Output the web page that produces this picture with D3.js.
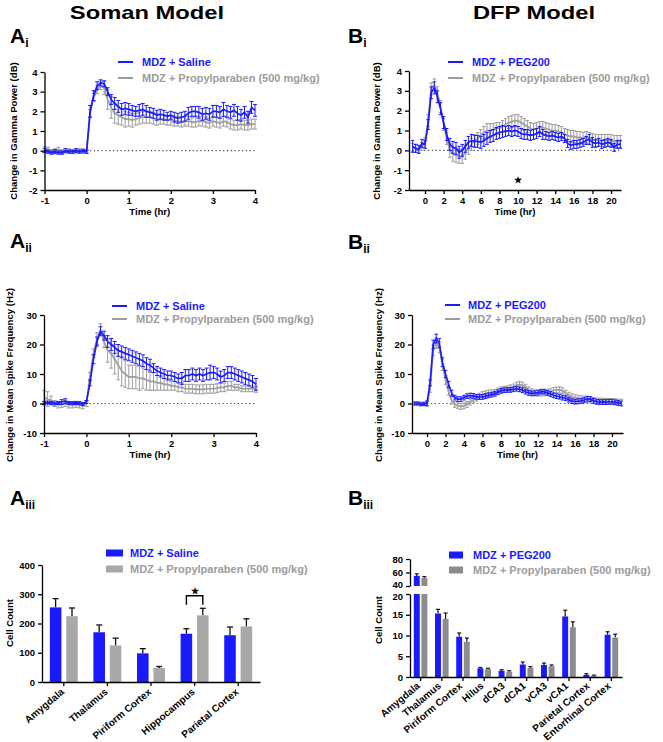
<!DOCTYPE html>
<html><head><meta charset="utf-8">
<script src="https://cdn.jsdelivr.net/npm/d3@7"></script>
<style>body{margin:0;background:#fff} text{font-family:"Liberation Sans",Arial,sans-serif;font-weight:bold}</style>
</head><body><svg id="c" width="663" height="742"></svg>
<script>
// ---------------- DATA ----------------
const somanTime = d3.range(61).map(i => -1 + i / 12);   // 5-min bins, -1 .. 4 hr
const dfpTime = d3.range(68).map(i => -4 / 3 + i / 3);   // 20-min bins, -1.33 .. 21 hr

const aiSaline = [0.0,-0.05,-0.1,-0.05,-0.1,-0.1,0.0,-0.05,-0.05,0.0,-0.05,0.0,-0.05,
 2.0,2.8,3.3,3.45,3.4,3.0,2.6,2.4,2.25,2.1,2.15,2.1,
 2.05,2.0,2.05,2.1,2.0,1.95,1.9,1.8,1.85,1.8,1.75,1.8,
 1.7,1.65,1.7,1.75,1.9,2.0,2.0,1.95,1.85,1.9,1.85,2.0,
 2.0,1.95,2.1,2.0,1.95,2.05,1.9,1.8,1.95,1.7,2.2,2.05];
const aiSalineErr = [0.1,0.08,0.08,0.1,0.08,0.08,0.1,0.08,0.08,0.1,0.08,0.08,0.08,
 0.3,0.25,0.2,0.15,0.15,0.2,0.25,0.3,0.3,0.3,0.3,0.3,
 0.25,0.25,0.3,0.3,0.3,0.25,0.25,0.25,0.25,0.25,0.2,0.2,
 0.25,0.25,0.25,0.25,0.3,0.25,0.25,0.3,0.3,0.3,0.3,0.3,
 0.3,0.3,0.35,0.3,0.3,0.3,0.35,0.3,0.3,0.3,0.3,0.3];
const aiPropyl = [0.05,0.05,-0.05,0.0,0.05,-0.05,0.0,0.0,-0.05,0.0,0.0,-0.05,-0.05,
 1.9,2.7,3.1,3.3,3.2,2.6,2.2,1.9,1.8,1.7,1.6,1.6,
 1.55,1.6,1.65,1.7,1.7,1.7,1.65,1.6,1.6,1.6,1.55,1.55,
 1.5,1.5,1.45,1.5,1.5,1.45,1.45,1.5,1.5,1.45,1.4,1.5,
 1.45,1.4,1.5,1.45,1.35,1.3,1.3,1.35,1.3,1.3,1.35,1.35];
const aiPropylErr = [0.15,0.12,0.12,0.1,0.12,0.1,0.1,0.1,0.1,0.1,0.1,0.1,0.1,
 0.2,0.2,0.2,0.2,0.35,0.5,0.55,0.5,0.45,0.4,0.4,0.35,
 0.35,0.3,0.3,0.3,0.3,0.3,0.3,0.3,0.25,0.25,0.25,0.25,
 0.25,0.25,0.25,0.25,0.25,0.25,0.25,0.25,0.25,0.25,0.25,0.25,
 0.25,0.25,0.25,0.25,0.25,0.25,0.25,0.25,0.25,0.25,0.25,0.25];

const aiiSaline = [0.2,0.3,0.2,0.0,0.2,0.5,0.8,0.2,0.1,0.2,0.1,-0.2,0.5,
 7,15,21,24.5,23,21,20,19,18,17.5,17,16.5,
 16,15.5,15,14.5,13.5,13,12,11,10.5,10,9.5,9.5,
 9,8.5,8.5,9.5,9.5,10,9.5,10,9.5,10,10.5,10.5,
 10,9,9.5,10.5,10.5,10,9.5,9,8.5,8,7.5,6.5];
const aiiSalineErr = [0.5,0.5,0.5,0.5,0.5,0.8,0.8,0.5,0.5,0.5,0.5,0.5,0.5,
 1,1.5,1.5,1.5,1.5,2,2,2,2,2,2,2,
 2,2,2,2,2,2,1.5,1.5,1.5,1.5,1.5,1.5,
 1.5,1.5,2,2,2,2,2,2,2,2,2.5,2,
 2,2,2,2,2,2,2,2,2,2,2,2];
const aiiPropyl = [2.0,1.5,1.0,0.0,-0.5,-0.3,0.0,-0.5,-0.5,-0.3,-0.5,-0.8,0.0,
 9,17,22,25,21,18,17,15,13,11,10,9,
 9,9,8.5,8.5,8,7.5,7.5,7,7,6.5,6.5,6,
 6,5.5,5.5,5,5,5,4.8,4.8,4.8,5,5,5,
 5.2,5.5,5.5,6,6,5.5,5.5,5,5,5,5,4.8];
const aiiPropylErr = [2.5,2.5,1.5,1,1,1,1,1,1,1,1,1,1,
 1.5,1.5,2,2,2,4,5,5,5,5,4.5,4,
 4,4,4,3.5,3.5,3,3,2.5,2.5,2,2,1.5,
 1.5,1.5,1.5,1.5,1.5,1.5,1.5,1.5,1.5,1.5,1.5,1.5,
 1.5,1.5,1.5,1.5,1.5,1,1,1,1,1,1,1];

const biPeg = [0.2,0.1,0.05,0.35,
 0.3,1.3,2.9,3.15,2.7,2.1,1.4,0.8,0.3,0.15,0.1,-0.1,
 0.0,0.2,0.4,0.5,0.45,0.45,0.4,0.5,0.6,0.7,0.75,0.85,
 0.9,0.95,0.95,1.0,0.95,1.0,0.95,0.85,0.8,0.8,0.75,0.8,
 0.85,0.95,0.8,0.75,0.7,0.75,0.7,0.65,0.7,0.6,0.35,0.25,
 0.3,0.3,0.35,0.4,0.5,0.55,0.4,0.35,0.4,0.3,0.35,0.4,
 0.35,0.15,0.3,0.3];
const biPegErr = [0.3,0.2,0.2,0.2,
 0.2,0.25,0.3,0.3,0.3,0.3,0.3,0.3,0.3,0.3,0.3,0.3,
 0.3,0.3,0.3,0.3,0.3,0.3,0.3,0.3,0.3,0.3,0.3,0.3,
 0.3,0.3,0.25,0.25,0.25,0.25,0.25,0.25,0.25,0.25,0.25,0.25,
 0.25,0.25,0.25,0.2,0.2,0.2,0.2,0.2,0.2,0.2,0.2,0.2,
 0.2,0.2,0.2,0.2,0.2,0.25,0.25,0.2,0.2,0.2,0.2,0.2,
 0.2,0.2,0.2,0.2];
const biPropyl = [0.15,0.1,0.05,0.2,
 0.4,1.5,3.1,3.3,2.9,2.2,1.3,0.6,0.0,-0.2,-0.25,-0.3,
 -0.3,-0.1,0.1,0.3,0.5,0.6,0.75,0.9,1.0,1.0,1.05,1.1,
 1.1,1.2,1.3,1.4,1.45,1.5,1.5,1.4,1.3,1.2,1.1,1.05,
 1.1,1.15,1.15,1.1,1.05,1.0,1.0,0.95,0.9,0.8,0.75,0.7,
 0.7,0.65,0.65,0.6,0.65,0.6,0.55,0.5,0.5,0.5,0.5,0.5,
 0.5,0.45,0.45,0.45];
const biPropylErr = [0.2,0.2,0.2,0.2,
 0.25,0.3,0.3,0.3,0.3,0.3,0.3,0.3,0.35,0.35,0.35,0.35,
 0.35,0.35,0.3,0.3,0.3,0.3,0.3,0.3,0.35,0.35,0.3,0.3,
 0.3,0.3,0.3,0.3,0.3,0.3,0.3,0.3,0.3,0.3,0.3,0.3,
 0.3,0.3,0.3,0.3,0.3,0.3,0.3,0.3,0.3,0.3,0.3,0.3,
 0.3,0.3,0.3,0.3,0.3,0.3,0.3,0.3,0.3,0.3,0.3,0.3,
 0.3,0.3,0.3,0.3];

const biiPeg = [0,0,-0.3,-0.2,
 0,7,20,22,20.5,14,10,6.5,3.5,2,1.5,1.5,
 2,2.5,2.7,2.6,2.3,2.2,2.2,2.5,2.8,3.0,3.3,3.8,
 4.3,4.5,4.6,4.6,4.8,5.0,4.8,4.5,4.0,3.6,3.4,3.5,
 3.7,4.0,4.0,3.6,3.2,2.8,2.5,2.3,2.0,1.8,1.3,0.8,
 0.6,0.7,0.9,1.2,1.6,1.5,0.9,0.6,0.5,0.5,0.5,0.6,
 0.6,0.4,0.2,0.0];
const biiPegErr = [0.5,0.5,0.5,0.5,
 0.8,1,1.5,1.5,1.5,1.5,1.2,1,1,0.8,0.8,0.8,
 0.8,0.8,0.8,0.8,0.8,0.8,0.8,0.8,0.8,0.8,0.8,0.8,
 0.8,0.8,0.8,0.8,0.8,0.8,0.8,0.8,0.8,0.8,0.8,0.8,
 0.8,0.8,0.8,0.8,0.8,0.8,0.8,0.8,0.8,0.8,0.8,0.8,
 0.8,0.8,0.8,0.8,0.8,0.8,0.8,0.8,0.8,0.8,0.8,0.8,
 0.8,0.8,0.8,0.8];
const biiPropyl = [0,0,0,0,
 0,5,18,20.5,19,13,8,4,1,-0.3,-0.8,-1.0,
 -0.8,-0.3,0.5,1.2,1.8,2.5,3.0,3.3,3.5,3.6,3.8,4.2,
 4.6,4.8,5.0,5.3,5.6,6.2,6.5,6.2,5.5,4.6,4.0,3.6,
 3.5,3.5,3.6,3.8,4.0,4.4,4.6,4.6,4.3,3.5,2.8,2.3,
 2.0,1.8,1.6,1.5,1.4,1.2,1.0,0.9,0.8,0.8,0.7,0.7,
 0.6,0.6,0.5,0.4];
const biiPropylErr = [0.5,0.5,0.5,0.5,
 0.8,1.2,1.8,1.8,1.8,1.8,1.5,1.2,1.2,1,1,1,
 1,1,1,1,1,1,1,1,1,1,1,1,
 1,1,1,1,1,1,1,1,1,1,1,1,
 1,1,1,1,1,1,1,1,1,1,1,1,
 1,1,1,1,1,1,1,1,1,1,1,1,
 1,1,1,1];

const aiiiRegions = ["Amygdala","Thalamus","Piriform Cortex","Hippocampus","Parietal Cortex"];
const aiiiSaline = [255,170,98,165,160];
const aiiiSalineErr = [30,25,16,17,28];
const aiiiPropyl = [225,125,48,228,190];
const aiiiPropylErr = [28,25,5,24,26];

const biiiRegions = ["Amygdala","Thalamus","Piriform Cortex","Hilus","dCA3","dCA1","vCA3","vCA1","Parietal Cortex","Entorhinal Cortex"];
const biiiPeg = [55,15.3,9.7,2.1,1.5,3.0,2.9,14.6,0.5,10.2];
const biiiPegErr = [3,1.0,0.9,0.2,0.25,0.6,0.45,1.5,0.3,0.7];
const biiiPropyl = [52,14.0,8.5,1.9,1.3,2.2,2.6,12.0,0.3,9.5];
const biiiPropylErr = [2,1.4,0.9,0.2,0.2,0.3,0.3,1.3,0.15,0.8];

const yTicksGamma = [-2,-1,0,1,2,3,4];
const yTicksSpike = [-10,0,10,20,30];
const xTicksSoman = [-1,0,1,2,3,4];
const xTicksDfp = [0,2,4,6,8,10,12,14,16,18,20];

// ---------------- DRAW ----------------
const BLUE = "#1a1aff", GRAY = "#9c9c9c", GRAYBAR = "#a8a8a8", GRAYBAR2 = "#8c8c8c";
const FONT = '"Liberation Sans", Arial, sans-serif';
const svg = d3.select("#c");

function styleAxis(g, fs) {
  g.attr("font-family", FONT).attr("font-size", fs || 9.5).attr("font-weight", "bold");
  g.selectAll("path,line").attr("stroke", "#000").attr("stroke-width", 1.3);
  g.selectAll("text").attr("fill", "#000");
}

function label(x, y, main, sub) {
  const t = svg.append("text").attr("x", x).attr("y", y).attr("font-size", 21).attr("fill", "#000");
  t.append("tspan").text(main);
  t.append("tspan").attr("font-size", 12).attr("dy", 4).text(sub);
}

function yLabel(x, y, txt) {
  svg.append("text").attr("transform", `translate(${x},${y}) rotate(-90)`).attr("text-anchor", "middle")
    .attr("font-size", 9.6).attr("fill", "#000").text(txt);
}

function lineLegend(o, names) {
  const cols = [BLUE, GRAY];
  names.forEach((n, i) => {
    svg.append("line").attr("x1", o.x1).attr("x2", o.x2).attr("y1", o.ys[i]).attr("y2", o.ys[i])
      .attr("stroke", cols[i]).attr("stroke-width", 2);
    svg.append("text").attr("x", o.tx).attr("y", o.ys[i]).attr("dy", "0.36em").attr("font-size", 11)
      .attr("fill", cols[i]).text(n);
  });
}

function linePanel(o) {
  const x = d3.scaleLinear().domain(o.xRef).range(o.xRefPx);
  x.domain([x.invert(o.xRange[0]), x.invert(o.xRange[1])]).range(o.xRange);
  const y = d3.scaleLinear().domain(o.yDom).range(o.yRange);
  const g = svg.append("g");
  g.append("line").attr("x1", o.xRange[0]).attr("x2", o.xRange[1]).attr("y1", y(0)).attr("y2", y(0))
    .attr("stroke", "#444").attr("stroke-width", 1.1).attr("stroke-dasharray", "1.2,2.6");
  o.series.forEach(s => {
    const pts = s.t.map((t, i) => ({ t, v: s.v[i], e: s.e[i] }));
    const eb = g.append("g").attr("stroke", s.color).attr("stroke-width", 1);
    pts.forEach(p => {
      const cx = x(p.t), y1 = y(p.v - p.e), y2 = y(p.v + p.e);
      eb.append("line").attr("x1", cx).attr("x2", cx).attr("y1", y1).attr("y2", y2);
      eb.append("line").attr("x1", cx - o.cap).attr("x2", cx + o.cap).attr("y1", y1).attr("y2", y1);
      eb.append("line").attr("x1", cx - o.cap).attr("x2", cx + o.cap).attr("y1", y2).attr("y2", y2);
    });
    g.append("path").datum(pts).attr("d", d3.line().x(p => x(p.t)).y(p => y(p.v)))
      .attr("fill", "none").attr("stroke", s.color).attr("stroke-width", 1.7);
  });
  const ax = g.append("g").attr("transform", `translate(0,${o.yRange[0]})`)
    .call(d3.axisBottom(x).tickValues(o.xTicks).tickSize(4).tickSizeOuter(0).tickPadding(3).tickFormat(d => String(d)));
  styleAxis(ax);
  const ay = g.append("g").attr("transform", `translate(${o.xRange[0]},0)`)
    .call(d3.axisLeft(y).tickValues(o.yTicks).tickSize(4).tickSizeOuter(0).tickPadding(3).tickFormat(d => String(d)));
  styleAxis(ay);
  svg.append("text").attr("x", (o.xRange[0] + o.xRange[1]) / 2).attr("y", o.yRange[0] + 25).attr("text-anchor", "middle")
    .attr("font-size", 9.6).attr("fill", "#000").text("Time (hr)");
  if (o.star) {
    svg.append("text").attr("x", x(o.star[0])).attr("y", y(o.star[1])).attr("dy", "0.35em").attr("text-anchor", "middle")
      .attr("font-family", "DejaVu Sans").attr("font-size", 9).attr("fill", "#000").text("★");
  }
}

// titles
svg.append("text").attr("transform", "translate(147,19) scale(1.25,1)").attr("text-anchor", "middle").attr("font-size", 19).attr("fill", "#000").text("Soman Model");
svg.append("text").attr("transform", "translate(534,19) scale(1.25,1)").attr("text-anchor", "middle").attr("font-size", 19).attr("fill", "#000").text("DFP Model");

label(10, 43, "A", "i"); label(348, 43, "B", "i");
label(10, 248, "A", "ii"); label(348, 249, "B", "ii");
label(10, 505, "A", "iii"); label(348, 505, "B", "iii");

// Ai
linePanel({ xRef: [-1, 4], xRefPx: [44.5, 255], xRange: [44.5, 255], yDom: [-2, 4], yRange: [190, 72],
  xTicks: xTicksSoman, yTicks: yTicksGamma, cap: 2,
  series: [{ t: somanTime, v: aiPropyl, e: aiPropylErr, color: GRAY }, { t: somanTime, v: aiSaline, e: aiSalineErr, color: BLUE }] });
lineLegend({ x1: 118, x2: 133, tx: 142, ys: [62, 78] }, ["MDZ + Saline", "MDZ + Propylparaben (500 mg/kg)"]);
yLabel(17, 131, "Change in Gamma Power (dB)");

// Bi
linePanel({ xRef: [0, 20], xRefPx: [425, 611], xRange: [409, 621], yDom: [-2, 4], yRange: [190, 71],
  xTicks: xTicksDfp, yTicks: yTicksGamma, cap: 1.8, star: [10, -1.5],
  series: [{ t: dfpTime, v: biPropyl, e: biPropylErr, color: GRAY }, { t: dfpTime, v: biPeg, e: biPegErr, color: BLUE }] });
lineLegend({ x1: 448, x2: 463, tx: 472, ys: [62, 78] }, ["MDZ + PEG200", "MDZ + Propylparaben (500 mg/kg)"]);
yLabel(380, 131, "Change in Gamma Power (dB)");

// Aii
linePanel({ xRef: [-1, 4], xRefPx: [44, 256], xRange: [44, 256], yDom: [-10, 30], yRange: [433, 315],
  xTicks: xTicksSoman, yTicks: yTicksSpike, cap: 2,
  series: [{ t: somanTime, v: aiiPropyl, e: aiiPropylErr, color: GRAY }, { t: somanTime, v: aiiSaline, e: aiiSalineErr, color: BLUE }] });
lineLegend({ x1: 112, x2: 127, tx: 136, ys: [306, 319] }, ["MDZ + Saline", "MDZ + Propylparaben (500 mg/kg)"]);
yLabel(13, 375, "Change in Mean Spike Frequency (Hz)");

// Bii
linePanel({ xRef: [0, 20], xRefPx: [427, 612], xRange: [412, 623], yDom: [-10, 30], yRange: [433, 315],
  xTicks: xTicksDfp, yTicks: yTicksSpike, cap: 1.8,
  series: [{ t: dfpTime, v: biiPropyl, e: biiPropylErr, color: GRAY }, { t: dfpTime, v: biiPeg, e: biiPegErr, color: BLUE }] });
lineLegend({ x1: 445, x2: 460, tx: 468, ys: [305, 319] }, ["MDZ + PEG200", "MDZ + Propylparaben (500 mg/kg)"]);
yLabel(382, 375, "Change in Mean Spike Frequency (Hz)");

// bar legend
function barLegend(o, names, grayCol) {
  const cols = [BLUE, grayCol];
  const tcols = [BLUE, GRAY];
  names.forEach((n, i) => {
    svg.append("rect").attr("x", o.x1).attr("y", o.ys[i] - 3.5).attr("width", o.x2 - o.x1).attr("height", 7).attr("fill", cols[i]);
    svg.append("text").attr("x", o.tx).attr("y", o.ys[i]).attr("dy", "0.36em").attr("font-size", 11).attr("fill", tcols[i]).text(n);
  });
}

// Aiii
(function () {
  const x = d3.scaleBand().domain(aiiiRegions).range([42, 260]);
  const y = d3.scaleLinear().domain([0, 400]).range([682, 565]);
  const bw = x.bandwidth(), w = bw * 0.265, off = bw * 0.188;
  const g = svg.append("g");
  const sets = [[aiiiSaline, aiiiSalineErr, BLUE, -off], [aiiiPropyl, aiiiPropylErr, GRAYBAR, off]];
  sets.forEach(([vals, errs, col, dx]) => {
    aiiiRegions.forEach((r, i) => {
      const cx = x(r) + bw / 2 + dx;
      g.append("line").attr("x1", cx).attr("x2", cx).attr("y1", y(vals[i])).attr("y2", y(vals[i] + errs[i])).attr("stroke", "#111").attr("stroke-width", 1.3);
      g.append("line").attr("x1", cx - 3).attr("x2", cx + 3).attr("y1", y(vals[i] + errs[i])).attr("y2", y(vals[i] + errs[i])).attr("stroke", "#111").attr("stroke-width", 1.3);
      g.append("rect").attr("x", cx - w / 2).attr("y", y(vals[i])).attr("width", w).attr("height", y(0) - y(vals[i])).attr("fill", col);
    });
  });
  // significance bracket (Hippocampus)
  const hc = x("Hippocampus") + bw / 2;
  const by = y(295);
  g.append("path").attr("d", `M${hc - off},${by + 9}V${by}H${hc + off}V${by + 9}`).attr("fill", "none").attr("stroke", "#000").attr("stroke-width", 1.4);
  g.append("text").attr("x", hc).attr("y", by - 5).attr("dy", "0.35em").attr("text-anchor", "middle").attr("font-family", "DejaVu Sans").attr("font-size", 9).attr("fill", "#000").text("★");
  const ax = g.append("g").attr("transform", `translate(0,${y(0)})`).call(d3.axisBottom(x).tickSize(4).tickSizeOuter(0).tickFormat(""));
  styleAxis(ax);
  const ay = g.append("g").attr("transform", `translate(42,0)`).call(d3.axisLeft(y).tickValues([0, 100, 200, 300, 400]).tickSize(4).tickSizeOuter(0).tickPadding(3));
  styleAxis(ay);
  aiiiRegions.forEach(r => {
    svg.append("text").attr("transform", `translate(${x(r) + bw / 2 + 1},${y(0) + 11}) rotate(-40)`).attr("text-anchor", "end")
      .attr("font-size", 10).attr("fill", "#000").text(r);
  });
  barLegend({ x1: 106, x2: 123, tx: 130, ys: [553, 569] }, ["MDZ + Saline", "MDZ + Propylparaben (500 mg/kg)"], GRAYBAR);
  yLabel(13, 623, "Cell Count");
})();

// Biii (broken y axis)
(function () {
  const x = d3.scaleBand().domain(biiiRegions).range([410, 622]);
  const yLo = d3.scaleLinear().domain([0, 20]).range([677, 594]);
  const yHi = d3.scaleLinear().domain([40, 80]).range([586, 559]);
  const bw = x.bandwidth(), w = bw * 0.28, off = bw * 0.18;
  const g = svg.append("g");
  const sets = [[biiiPeg, biiiPegErr, BLUE, -off], [biiiPropyl, biiiPropylErr, GRAYBAR2, off]];
  sets.forEach(([vals, errs, col, dx]) => {
    biiiRegions.forEach((r, i) => {
      const cx = x(r) + bw / 2 + dx;
      const v = vals[i], e = errs[i];
      const yy = v > 20 ? yHi : yLo;
      g.append("line").attr("x1", cx).attr("x2", cx).attr("y1", yy(v)).attr("y2", yy(v + e)).attr("stroke", "#111").attr("stroke-width", 1.2);
      g.append("line").attr("x1", cx - 2).attr("x2", cx + 2).attr("y1", yy(v + e)).attr("y2", yy(v + e)).attr("stroke", "#111").attr("stroke-width", 1.2);
      if (v > 20) {
        g.append("rect").attr("x", cx - w / 2).attr("y", yLo(20)).attr("width", w).attr("height", yLo(0) - yLo(20)).attr("fill", col);
        g.append("rect").attr("x", cx - w / 2).attr("y", yHi(v)).attr("width", w).attr("height", yHi(40) - yHi(v)).attr("fill", col);
      } else {
        g.append("rect").attr("x", cx - w / 2).attr("y", yLo(v)).attr("width", w).attr("height", yLo(0) - yLo(v)).attr("fill", col);
      }
    });
  });
  const ax = g.append("g").attr("transform", `translate(0,${yLo(0)})`).call(d3.axisBottom(x).tickSize(4).tickSizeOuter(0).tickFormat(""));
  styleAxis(ax);
  const ay1 = g.append("g").attr("transform", `translate(410,0)`).call(d3.axisLeft(yLo).tickValues([0, 5, 10, 15, 20]).tickSize(4).tickSizeOuter(0).tickPadding(3));
  styleAxis(ay1);
  const ay2 = g.append("g").attr("transform", `translate(410,0)`).call(d3.axisLeft(yHi).tickValues([40, 60, 80]).tickSize(4).tickSizeOuter(0).tickPadding(3));
  styleAxis(ay2);
  ay1.selectAll(".tick text").filter(d => d === 20).attr("dy", "0.55em");
  ay2.selectAll(".tick text").filter(d => d === 40).attr("dy", "0.2em");
  biiiRegions.forEach(r => {
    svg.append("text").attr("transform", `translate(${x(r) + bw / 2},${yLo(0) + 10}) rotate(-40)`).attr("text-anchor", "end")
      .attr("font-size", 10).attr("fill", "#000").text(r);
  });
  barLegend({ x1: 449, x2: 463, tx: 473, ys: [555, 570] }, ["MDZ + PEG200", "MDZ + Propylparaben (500 mg/kg)"], GRAYBAR2);
  yLabel(382, 620, "Cell Count");
})();
</script></body></html>
